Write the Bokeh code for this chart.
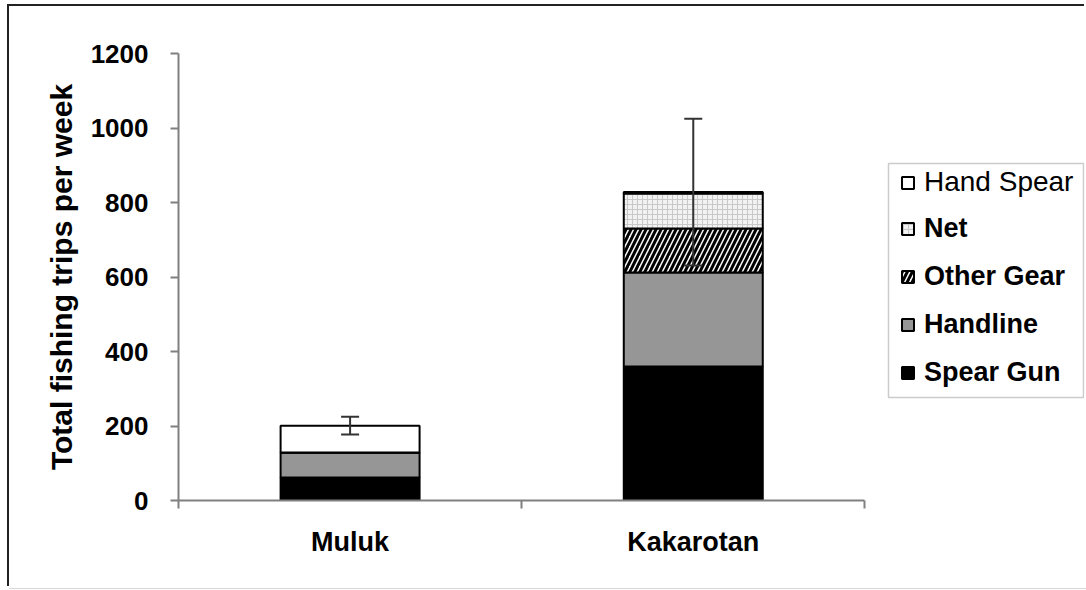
from bokeh.plotting import figure
from bokeh.models import (ColumnDataSource, Range1d, LinearAxis, FixedTicker, Legend, LegendItem,
                          Whisker, TeeHead, BoxAnnotation)
from bokeh.embed import file_html
from bokeh.resources import INLINE

sites = ["Muluk", "Kakarotan"]
spear_gun = [62, 360]
handline = [67, 252]
other_gear = [0, 118]
net = [0, 94]
hand_spear = [72, 4]
errors = [24, 197]
y_ticks = [0, 200, 400, 600, 800, 1000, 1200]
gears = ["Spear Gun", "Handline", "Other Gear", "Net", "Hand Spear"]

FONT = "Liberation Sans"

xpos = [i + 0.5 for i in range(len(sites))]
data = {"site": sites, "x": xpos, "Spear Gun": spear_gun, "Handline": handline,
        "Other Gear": other_gear, "Net": net, "Hand Spear": hand_spear}
source = ColumnDataSource(data)

totals = [a + b + c + d + e for a, b, c, d, e in zip(spear_gun, handline, other_gear, net, hand_spear)]
err_src = ColumnDataSource(dict(x=xpos,
                                upper=[t + e for t, e in zip(totals, errors)],
                                lower=[t - e for t, e in zip(totals, errors)]))

# frame extends to the right so the legend sits inside it; x axis is bounded to the categories
p = figure(width=1077, height=582, x_range=Range1d(0, 2.64), y_range=Range1d(0, 1200),
           output_backend="svg", toolbar_location=None, x_axis_location=None,
           min_border_left=169, min_border_right=2, min_border_top=47, min_border_bottom=88)
p.outline_line_color = None
p.xgrid.visible = False
p.ygrid.visible = False
p.background_fill_color = "white"
p.border_fill_color = "white"
p.styles = {"box-shadow": "-2px -2px 0 0 #222222, 0 1px 0 0 #d8d8d8",
            "margin-left": "9px", "margin-top": "6px"}

renderers = p.vbar_stack(
    gears, x="x", width=0.405, source=source,
    fill_color=["#000000", "#969696", "#ffffff", "#f2f2f2", "#ffffff"],
    line_color="black", line_width=2,
    hatch_pattern=[" ", " ", "/", "+", " "],
    hatch_color=["black", "black", "black", "#c8c8c8", "black"],
    hatch_weight=[1, 1, 3, 1, 1],
    hatch_scale=[8, 8, 10, 5, 8],
)

w = Whisker(base="x", upper="upper", lower="lower", source=err_src,
            line_color="#333333", line_width=2, level="annotation",
            upper_head=TeeHead(size=18, line_color="#333333", line_width=2),
            lower_head=TeeHead(size=18, line_color="#333333", line_width=2))
p.add_layout(w)

# y axis
ya = p.yaxis[0]
ya.ticker = FixedTicker(ticks=y_ticks)
ya.minor_tick_line_color = None
ya.axis_line_color = "#808080"
ya.axis_line_width = 2
ya.major_tick_line_color = "#808080"
ya.major_tick_line_width = 2
ya.major_tick_out = 8
ya.major_tick_in = 0
ya.major_label_text_font = FONT
ya.major_label_text_font_style = "bold"
ya.major_label_text_font_size = "26px"
ya.major_label_text_color = "black"
ya.major_label_standoff = 22
ya.axis_label = "Total fishing trips per week"
ya.axis_label_text_font = FONT
ya.axis_label_text_font_style = "bold"
ya.axis_label_text_font_size = "30px"
ya.axis_label_text_color = "black"
ya.axis_label_standoff = 10

# x axis: boundary ticks + category labels
edges = list(range(len(sites) + 1))
edge_axis = LinearAxis(ticker=FixedTicker(ticks=edges), bounds=(0, len(sites)),
                       major_label_overrides={e: "" for e in edges},
                       major_label_text_font_size="1px", major_label_standoff=0,
                       axis_line_color="#808080", axis_line_width=2,
                       major_tick_line_color="#808080", major_tick_line_width=2,
                       major_tick_out=8, major_tick_in=0, minor_tick_line_color=None)
p.add_layout(edge_axis, "below")
cat_axis = LinearAxis(ticker=FixedTicker(ticks=xpos),
                      major_label_overrides={x: s for x, s in zip(xpos, sites)},
                      axis_line_color=None, major_tick_line_color=None, minor_tick_line_color=None,
                      major_label_text_font=FONT, major_label_text_font_style="bold",
                      major_label_text_font_size="27px", major_label_text_color="black",
                      major_label_standoff=12)
p.add_layout(cat_axis, "below")

# legends
r_by = dict(zip(gears, renderers))
common = dict(label_text_font=FONT, label_text_color="black",
              glyph_width=15, glyph_height=15, label_standoff=9, label_height=30,
              spacing=17, padding=0, margin=0, border_line_color=None,
              background_fill_alpha=0, inactive_fill_alpha=0)
leg1 = Legend(items=[LegendItem(label="Hand Spear", renderers=[r_by["Hand Spear"]])],
              location=(722, 302), label_text_font_style="normal", label_text_font_size="28px", **common)
leg2 = Legend(items=[LegendItem(label=g, renderers=[r_by[g]]) for g in ["Net", "Other Gear", "Handline", "Spear Gun"]],
              location=(722, 112), label_text_font_style="bold", label_text_font_size="27px", **common)
p.add_layout(leg1, "center")
p.add_layout(leg2, "center")

box = BoxAnnotation(left=710, right=905, bottom=103, top=337,
                    left_units="screen", right_units="screen", top_units="screen", bottom_units="screen",
                    fill_alpha=0, line_color="#555555", line_width=1.5)
p.add_layout(box)

open("out.html", "w").write(file_html(p, INLINE))
